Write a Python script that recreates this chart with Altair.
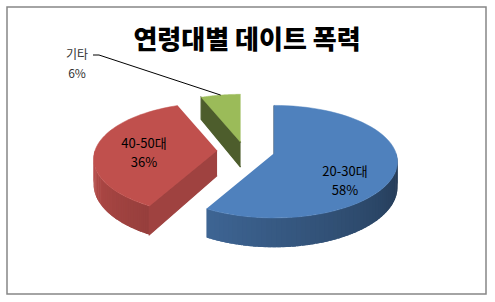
import altair as alt
import pandas as pd

# ---- data -------------------------------------------------------------
GROUPS = ["20-30대", "40-50대", "기타"]
SHARES = [58, 36, 6]
TITLE = "연령대별 데이트 폭력"

# ---- style ------------------------------------------------------------
COLORS = ["#4F81BD", "#C0504D", "#9BBB59"]
FONT = "Noto Sans CJK KR"

W, H = 495, 302
CX, CY = 246, 151          # pie centre on the canvas
RX, RY = 122, 55           # radii of the top ellipse
P = 0.15                   # perspective strength (back smaller, front larger)
D = 25                     # thickness of the pie
EX, EY = 29, 9             # explode distance
N = 60                     # points along each arc
M = 60                     # shading strips along each outer wall
OUT_X, OUT_Y = 77, 55      # callout label for small slices (first line)
LEAD_X, LEAD_Y = 93, 55    # start of the callout leader


def hex_rgb(h):
    h = h.lstrip("#")
    return [int(h[i:i + 2], 16) for i in (0, 2, 4)]


rgb = [hex_rgb(c) for c in COLORS]
df = pd.DataFrame({
    "group": GROUPS,
    "share": SHARES,
    "k": list(range(len(GROUPS))),
    "r": [c[0] for c in rgb],
    "g": [c[1] for c in rgb],
    "b": [c[2] for c in rgb],
})


def px(t):
    return f"datum.cx + {RX}*sin({t})/(1+{P}*cos({t}))"


def py(t):
    return f"datum.cy - {RY}*cos({t})/(1+{P}*cos({t}))"


def depth(t):
    return f"{D}/(1+{P}*cos({t}))"


def shaded(s):
    return ("'rgb(' + round(datum.r*(" + s + ")) + ',' + round(datum.g*(" + s +
            ")) + ',' + round(datum.b*(" + s + ")) + ')'")


X = alt.X("x:Q", scale=alt.Scale(domain=[0, W], nice=False, zero=False), axis=None)
Y = alt.Y("y:Q", scale=alt.Scale(domain=[0, H], nice=False, zero=False, reverse=True), axis=None)

base = (
    alt.Chart(df)
    .transform_window(cum="sum(share)", sort=[alt.SortField("k")], frame=[None, 0])
    .transform_joinaggregate(total="sum(share)")
    .transform_calculate(a0="2*PI*(datum.cum - datum.share)/datum.total")
    .transform_calculate(a1="2*PI*datum.cum/datum.total")
    .transform_calculate(am="(datum.a0 + datum.a1)/2")
    .transform_calculate(cx=f"{CX} + {EX}*sin(datum.am)")
    .transform_calculate(cy=f"{CY} - {EY}*cos(datum.am)")
)

# outer walls: only the front half is visible, drawn as overlapping shaded strips
walls = (
    base
    .transform_calculate(b0="max(datum.a0, PI/2)")
    .transform_calculate(b1="min(datum.a1, 3*PI/2)")
    .transform_filter("datum.b1 > datum.b0")
    .transform_calculate(j=f"sequence(0, {M})")
    .transform_flatten(["j"])
    .transform_calculate(c="sequence(0, 4)")
    .transform_flatten(["c"])
    .transform_calculate(tA=f"datum.b0 + (datum.b1 - datum.b0)*datum.j/{M}")
    .transform_calculate(tB=f"datum.b0 + (datum.b1 - datum.b0)*(datum.j + 1.8)/{M}")
    .transform_calculate(t="(datum.c == 0 || datum.c == 3) ? datum.tA : min(datum.tB, datum.b1)")
    .transform_calculate(x=px("datum.t"))
    .transform_calculate(y=py("datum.t") + " + (datum.c >= 2 ? " + depth("datum.t") + " : 0)")
    .transform_calculate(s="clamp(0.42 + 0.36*(datum.tA + 0.5*(datum.b1 - datum.b0)/" + str(M) +
                           " - PI/2)/(118*PI/180), 0, 1)")
    .transform_calculate(col=shaded("datum.s"))
    .transform_calculate(seg="datum.k*1000 + datum.j")
    .mark_line(filled=True, strokeWidth=0)
    .encode(x=X, y=Y, order="c:Q", detail="seg:O",
            color=alt.Color("col:N", scale=None))
)

# radial cut faces that turn towards the viewer
cuts = (
    base
    .transform_filter("sin(datum.a0) < 0.001")
    .transform_calculate(c="sequence(0, 4)")
    .transform_flatten(["c"])
    .transform_calculate(x="(datum.c == 0 || datum.c == 3) ? datum.cx : " + px("datum.a0"))
    .transform_calculate(
        y="datum.c == 0 ? datum.cy : datum.c == 3 ? datum.cy + " + str(D) +
          " : datum.c == 1 ? " + py("datum.a0") + " : " + py("datum.a0") + " + " + depth("datum.a0"))
    .transform_calculate(phi="(datum.a0 - PI/2 + 2*PI) % (2*PI)")
    .transform_calculate(s="clamp(0.83 - 0.33*(datum.phi - 118.8*PI/180)/(129.6*PI/180), 0.35, 1)")
    .transform_calculate(col=shaded("datum.s"))
    .mark_line(filled=True, strokeWidth=1.2)
    .encode(x=X, y=Y, order="c:Q", detail="group:N",
            color=alt.Color("col:N", scale=None),
            stroke=alt.Stroke("col:N", scale=None))
)

# top faces
tops = (
    base
    .transform_calculate(i=f"sequence(0, {N + 2})")
    .transform_flatten(["i"])
    .transform_calculate(t=f"datum.a0 + (datum.a1 - datum.a0)*clamp(datum.i - 1, 0, {N})/{N}")
    .transform_calculate(x="datum.i == 0 ? datum.cx : " + px("datum.t"))
    .transform_calculate(y="datum.i == 0 ? datum.cy : " + py("datum.t"))
    .transform_calculate(col=shaded("1"))
    .mark_line(filled=True, strokeWidth=0.5)
    .encode(x=X, y=Y, order="i:Q", detail="group:N",
            color=alt.Color("col:N", scale=None),
            stroke=alt.Stroke("col:N", scale=None))
)

# labels inside the larger slices (y is the first line)
inside = (
    base
    .transform_filter("datum.share >= 10")
    .transform_calculate(x=f"datum.cx + {RX}*0.6*sin(datum.am)")
    .transform_calculate(y=f"datum.cy - {RY}*1.5*cos(datum.am) - 1.5")
    .transform_calculate(label="datum.group + '\\n' + datum.share + '%'")
    .mark_text(font=FONT, fontSize=13, lineBreak="\n", lineHeight=19,
               baseline="middle", align="center", color="#000000")
    .encode(x=X, y=Y, text="label:N")
)

# callout for small slices
leader = (
    base
    .transform_filter("datum.share < 10")
    .transform_calculate(i="sequence(0, 3)")
    .transform_flatten(["i"])
    .transform_calculate(x=f"datum.i == 0 ? {LEAD_X} : datum.i == 1 ? {LEAD_X + 6} : " + px("datum.am"))
    .transform_calculate(y=f"datum.i < 2 ? {LEAD_Y} : " + py("datum.am"))
    .mark_line(color="#000000", strokeWidth=1)
    .encode(x=X, y=Y, order="i:Q", detail="group:N")
)

outside = (
    base
    .transform_filter("datum.share < 10")
    .transform_calculate(label="datum.group + '\\n' + datum.share + '%'")
    .mark_text(font=FONT, fontSize=12, lineBreak="\n", lineHeight=19,
               baseline="middle", align="center", color="#333333")
    .encode(x=alt.value(OUT_X), y=alt.value(OUT_Y), text="label:N")
)

title = (
    alt.Chart(pd.DataFrame({"t": [TITLE]}))
    .mark_text(font=FONT, fontSize=26, fontWeight=900, color="#000000",
               baseline="middle", align="center")
    .encode(x=alt.value(247), y=alt.value(41), text="t:N")
)

frame = (
    alt.Chart(pd.DataFrame({"f": [0]}))
    .mark_rect(fill=None, stroke="#878787", strokeWidth=1.5)
    .encode(x=alt.value(7), x2=alt.value(486), y=alt.value(7), y2=alt.value(294))
)

chart = (
    alt.layer(walls, cuts, tops, leader, inside, outside, title, frame)
    .properties(width=W, height=H, padding=0, autosize=alt.AutoSizeParams(type="none"),
                background="#FFFFFF")
    .configure_view(strokeWidth=0)
)

chart.save("out.html", embed_options={"renderer": "svg", "actions": False})
